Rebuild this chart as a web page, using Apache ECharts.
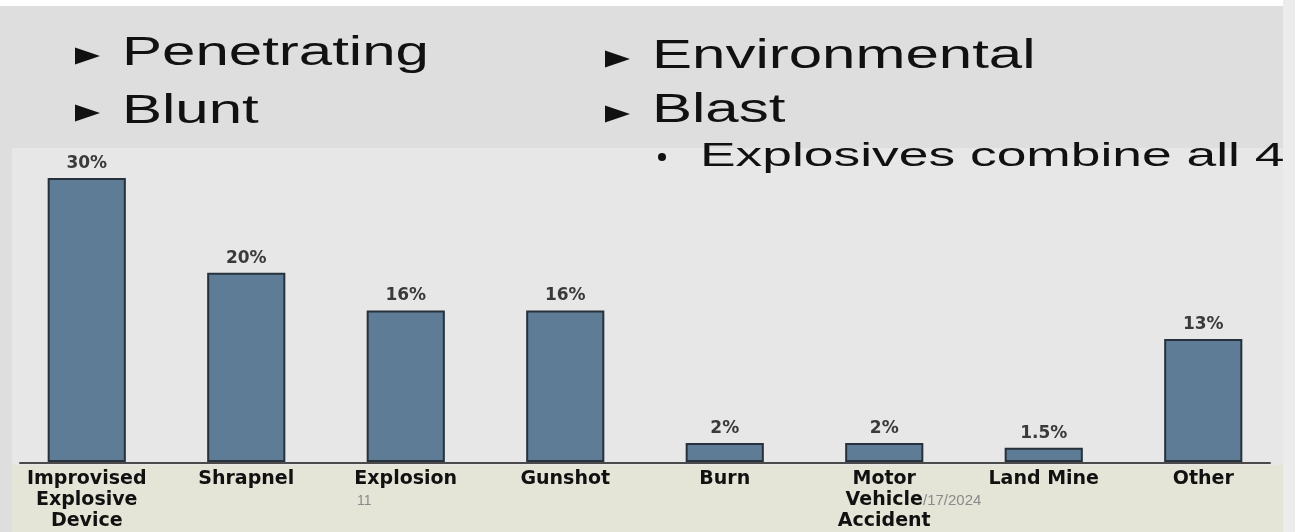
<!DOCTYPE html>
<html>
<head>
<meta charset="utf-8">
<title>Injury mechanisms</title>
<script src="https://cdn.jsdelivr.net/npm/echarts@6/dist/echarts.min.js"></script>
<style>
  html, body { margin: 0; padding: 0; background: #ffffff; }
  #chart { width: 1295px; height: 532px; }
</style>
</head>
<body>
<div id="chart"></div>
<script>
// Mechanism categories and their share of injuries (%)
const categories = [
  'Improvised\nExplosive\nDevice',
  'Shrapnel',
  'Explosion',
  'Gunshot',
  'Burn',
  'Motor\nVehicle\nAccident',
  'Land Mine',
  'Other'
];
const shares = [30, 20, 16, 16, 2, 2, 1.5, 13];

// Slide bullet text
const bulletsLeft = ['Penetrating', 'Blunt'];
const bulletsRight = ['Environmental', 'Blast'];
const subBullet = 'Explosives combine all 4';
const slideNumber = '11';
const slideDate = '/17/2024';

const chart = echarts.init(document.getElementById('chart'), null, { renderer: 'canvas' });

const headFont = '40px "Liberation Sans", Arial, sans-serif';
const subFont = '34px "Liberation Sans", Arial, sans-serif';

function bulletText(str, x, y, font, sx) {
  return {
    type: 'text', x: x, y: y, scaleX: sx, z: 10,
    style: { text: str, font: font, fill: '#111111', verticalAlign: 'middle', align: 'left' }
  };
}
function triangle(x, y) {
  return {
    type: 'polygon', z: 10,
    shape: { points: [[x, y - 8.5], [x + 25, y], [x, y + 8.5]] },
    style: { fill: '#111111' }
  };
}

const graphics = [
  // slide backdrop
  { type: 'rect', z: -10, shape: { x: 0, y: 6, width: 1283, height: 526 }, style: { fill: '#dedede' } },
  { type: 'rect', z: -9, shape: { x: 12, y: 148, width: 1271, height: 317 }, style: { fill: '#e7e7e7' } },
  { type: 'rect', z: -9, shape: { x: 12, y: 465, width: 1271, height: 67 }, style: { fill: '#e4e4d7' } },
  { type: 'rect', z: -10, shape: { x: 1283, y: 0, width: 12, height: 532 }, style: { fill: '#ececec' } },
  // bullets
  triangle(75, 56),
  bulletText(bulletsLeft[0], 122, 54, headFont, 1.5),
  triangle(75, 113),
  bulletText(bulletsLeft[1], 122, 112, headFont, 1.5),
  triangle(605, 59),
  bulletText(bulletsRight[0], 652, 57, headFont, 1.5),
  triangle(605, 114),
  bulletText(bulletsRight[1], 652, 111, headFont, 1.5),
  { type: 'circle', z: 10, shape: { cx: 662, cy: 157, r: 4 }, style: { fill: '#111111' } },
  bulletText(subBullet, 700, 157, subFont, 1.57),
  // footer
  { type: 'text', x: 357, y: 501, z: 1,
    style: { text: slideNumber, font: '14px "Liberation Sans", Arial, sans-serif', fill: '#8a8a8a', verticalAlign: 'middle' } },
  { type: 'text', x: 923, y: 501, z: 1,
    style: { text: slideDate, font: '15px "Liberation Sans", Arial, sans-serif', fill: '#8a8a8a', verticalAlign: 'middle' } }
];

const option = {
  backgroundColor: 'transparent',
  animation: false,
  graphic: graphics,
  grid: [
    { left: 7, right: 12, top: 178, bottom: 69 },
    { left: 20, right: 25, top: 178, bottom: 69 }
  ],
  xAxis: [
    {
      type: 'category', gridIndex: 0, data: categories,
      axisLine: { show: false }, axisTick: { show: false },
      axisLabel: {
        interval: 0, margin: 7, color: '#111111',
        fontFamily: '"DejaVu Sans", Verdana, sans-serif', fontWeight: 'bold',
        fontSize: 19, lineHeight: 21
      },
      z: 5
    },
    {
      type: 'category', gridIndex: 1, data: categories,
      axisLine: { show: true, lineStyle: { color: '#4a4a4a', width: 2 } },
      axisTick: { show: false }, axisLabel: { show: false }
    }
  ],
  yAxis: [
    { type: 'value', gridIndex: 0, min: 0, max: 30, show: false, splitLine: { show: false } },
    { type: 'value', gridIndex: 1, min: 0, max: 30, show: false, splitLine: { show: false } }
  ],
  series: [
    {
      type: 'bar', xAxisIndex: 0, yAxisIndex: 0,
      data: shares,
      barWidth: '49%',
      itemStyle: { color: '#5e7c96', borderColor: '#26313c', borderWidth: 2 },
      label: {
        show: true, position: 'top', distance: 6,
        formatter: p => p.value + '%',
        color: '#3a3a3a', fontFamily: '"DejaVu Sans", Verdana, sans-serif',
        fontWeight: 'bold', fontSize: 17
      }
    }
  ]
};

chart.setOption(option);
</script>
</body>
</html>
